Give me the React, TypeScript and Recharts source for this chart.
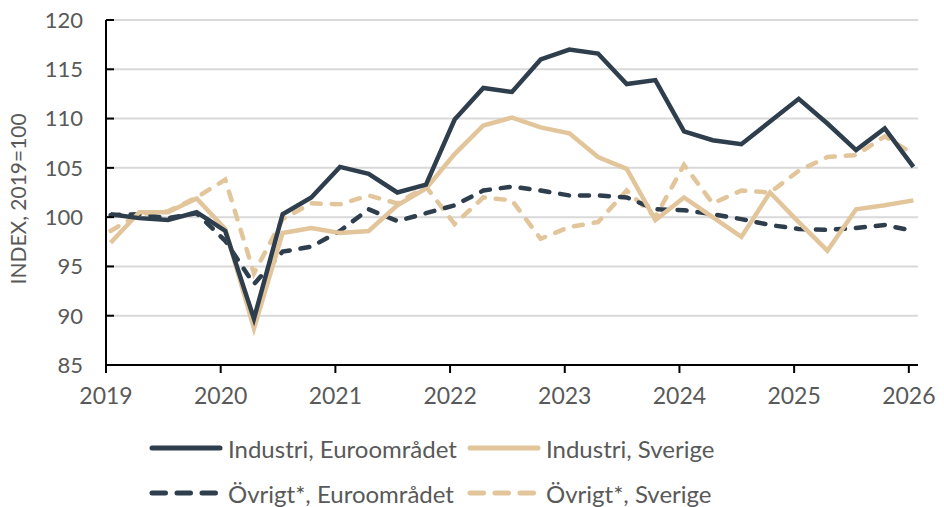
import { LineChart, Line, XAxis, YAxis, CartesianGrid } from 'recharts'

const quarters = [
  '2019K1', '2019K2', '2019K3', '2019K4',
  '2020K1', '2020K2', '2020K3', '2020K4',
  '2021K1', '2021K2', '2021K3', '2021K4',
  '2022K1', '2022K2', '2022K3', '2022K4',
  '2023K1', '2023K2', '2023K3', '2023K4',
  '2024K1', '2024K2', '2024K3', '2024K4',
  '2025K1', '2025K2', '2025K3', '2025K4',
  '2026K1'
]

const industriEuro = [100.3, 99.9, 99.7, 100.5, 98.6, 89.7, 100.3, 102.0, 105.1, 104.4, 102.5, 103.3, 109.9, 113.1, 112.7, 116.0, 117.0, 116.6, 113.5, 113.9, 108.7, 107.8, 107.4, 109.7, 112.0, 109.5, 106.8, 109.0, 105.1]
const industriSverige = [97.4, 100.5, 100.5, 101.9, 98.8, 88.7, 98.4, 98.9, 98.4, 98.6, 101.2, 102.9, 106.4, 109.3, 110.1, 109.1, 108.5, 106.1, 104.9, 99.7, 102.0, 100.0, 98.0, 102.5, 99.5, 96.6, 100.8, 101.2, 101.7]
const ovrigtEuro = [100.2, 100.3, 99.9, 100.4, 97.6, 93.2, 96.5, 97.0, 98.6, 100.8, 99.6, 100.4, 101.2, 102.7, 103.1, 102.7, 102.2, 102.2, 102.0, 100.8, 100.7, 100.3, 99.8, 99.2, 98.8, 98.7, 98.9, 99.2, 98.6]
const ovrigtSverige = [98.6, 100.3, 100.6, 102.0, 103.8, 94.3, 99.8, 101.4, 101.3, 102.2, 101.4, 103.1, 99.3, 102.0, 101.7, 97.8, 99.0, 99.5, 102.7, 100.0, 105.3, 101.4, 102.7, 102.5, 104.7, 106.1, 106.3, 108.2, 106.4]

const yearTicks = [2019, 2020, 2021, 2022, 2023, 2024, 2025, 2026]
const yTicks = [85, 90, 95, 100, 105, 110, 115, 120]

const DARK = '#2E3E4C'
const TAN = '#E2C59B'
const TEXT = '#595959'
const FONT = 'Lato, "Open Sans", sans-serif'
const DASH = '9 11'

// quarter label -> decimal year (points sit roughly mid-first-month of the quarter)
const toYear = (q: string) => Number(q.slice(0, 4)) + (Number(q.slice(5)) - 1) * 0.25 + 0.04

const data = quarters.map((q, i) => ({
  t: toYear(q),
  industriEuro: industriEuro[i],
  industriSverige: industriSverige[i],
  ovrigtEuro: ovrigtEuro[i],
  ovrigtSverige: ovrigtSverige[i]
}))

const legendItems = [
  { name: 'Industri, Euroområdet', color: DARK, dashed: false },
  { name: 'Industri, Sverige', color: TAN, dashed: false },
  { name: 'Övrigt*, Euroområdet', color: DARK, dashed: true },
  { name: 'Övrigt*, Sverige', color: TAN, dashed: true }
]

// y ticks point inwards, labels sit well left of the axis
const YTick = (props: any) => {
  const { x, y, payload } = props
  return (
    <g>
      <line x1={x} x2={x + 8} y1={y} y2={y} stroke='#000' strokeWidth={2} />
      <text x={x - 23} y={y} dy='0.36em' textAnchor='end' fill={TEXT} fontSize={22} fontFamily={FONT}>
        {payload.value}
      </text>
    </g>
  )
}

function LegendEntry ({ name, color, dashed, left, top }: { name: string; color: string; dashed: boolean; left: number; top: number }) {
  return (
    <div style={{ position: 'absolute', left, top, height: 30, display: 'flex', alignItems: 'center' }}>
      <svg width={74} height={12} style={{ marginRight: 5 }}>
        <line x1={3} y1={6} x2={71} y2={6} stroke={color} strokeWidth={5}
          strokeLinecap='round' strokeDasharray={dashed ? '13.5 11.5' : undefined} />
      </svg>
      <span style={{ fontFamily: FONT, fontSize: 24, color: TEXT, whiteSpace: 'nowrap' }}>{name}</span>
    </div>
  )
}

export default function App () {
  return (
    <div style={{ position: 'absolute', left: 0, top: 0, width: 944, height: 507, background: '#fff' }}>
      <LineChart width={944} height={507} data={data}
        margin={{ top: 20, right: 26, left: 46, bottom: 112 }}>
        <CartesianGrid vertical={false} stroke='#D9D9D9' strokeWidth={2} />
        <XAxis dataKey='t' type='number' domain={[2019, 2026.08]} ticks={yearTicks}
          allowDataOverflow height={30}
          axisLine={{ stroke: '#000', strokeWidth: 2 }} tickLine={{ stroke: '#000', strokeWidth: 2 }}
          tickSize={8} tickMargin={15}
          tick={{ fill: TEXT, fontSize: 23, fontFamily: FONT }} />
        <YAxis domain={[85, 120]} ticks={yTicks} width={60} interval={0}
          axisLine={{ stroke: '#000', strokeWidth: 2 }} tickLine={false}
          tickSize={0} tickMargin={0}
          tick={<YTick />}
          label={{ value: 'INDEX, 2019=100', angle: -90, position: 'insideLeft', dx: -32, dy: 92,
            style: { fill: TEXT, fontSize: 21, fontFamily: FONT } }} />
        <Line dataKey='ovrigtSverige' stroke={TAN} strokeWidth={4.5} strokeDasharray={DASH} strokeLinecap='round'
          dot={false} isAnimationActive={false} />
        <Line dataKey='ovrigtEuro' stroke={DARK} strokeWidth={4.5} strokeDasharray={DASH} strokeLinecap='round'
          dot={false} isAnimationActive={false} />
        <Line dataKey='industriSverige' stroke={TAN} strokeWidth={4.5} dot={false} isAnimationActive={false} />
        <Line dataKey='industriEuro' stroke={DARK} strokeWidth={4.5} dot={false} isAnimationActive={false} />
      </LineChart>
      <LegendEntry {...legendItems[0]} left={149} top={433} />
      <LegendEntry {...legendItems[1]} left={467} top={433} />
      <LegendEntry {...legendItems[2]} left={149} top={478} />
      <LegendEntry {...legendItems[3]} left={467} top={478} />
    </div>
  )
}
